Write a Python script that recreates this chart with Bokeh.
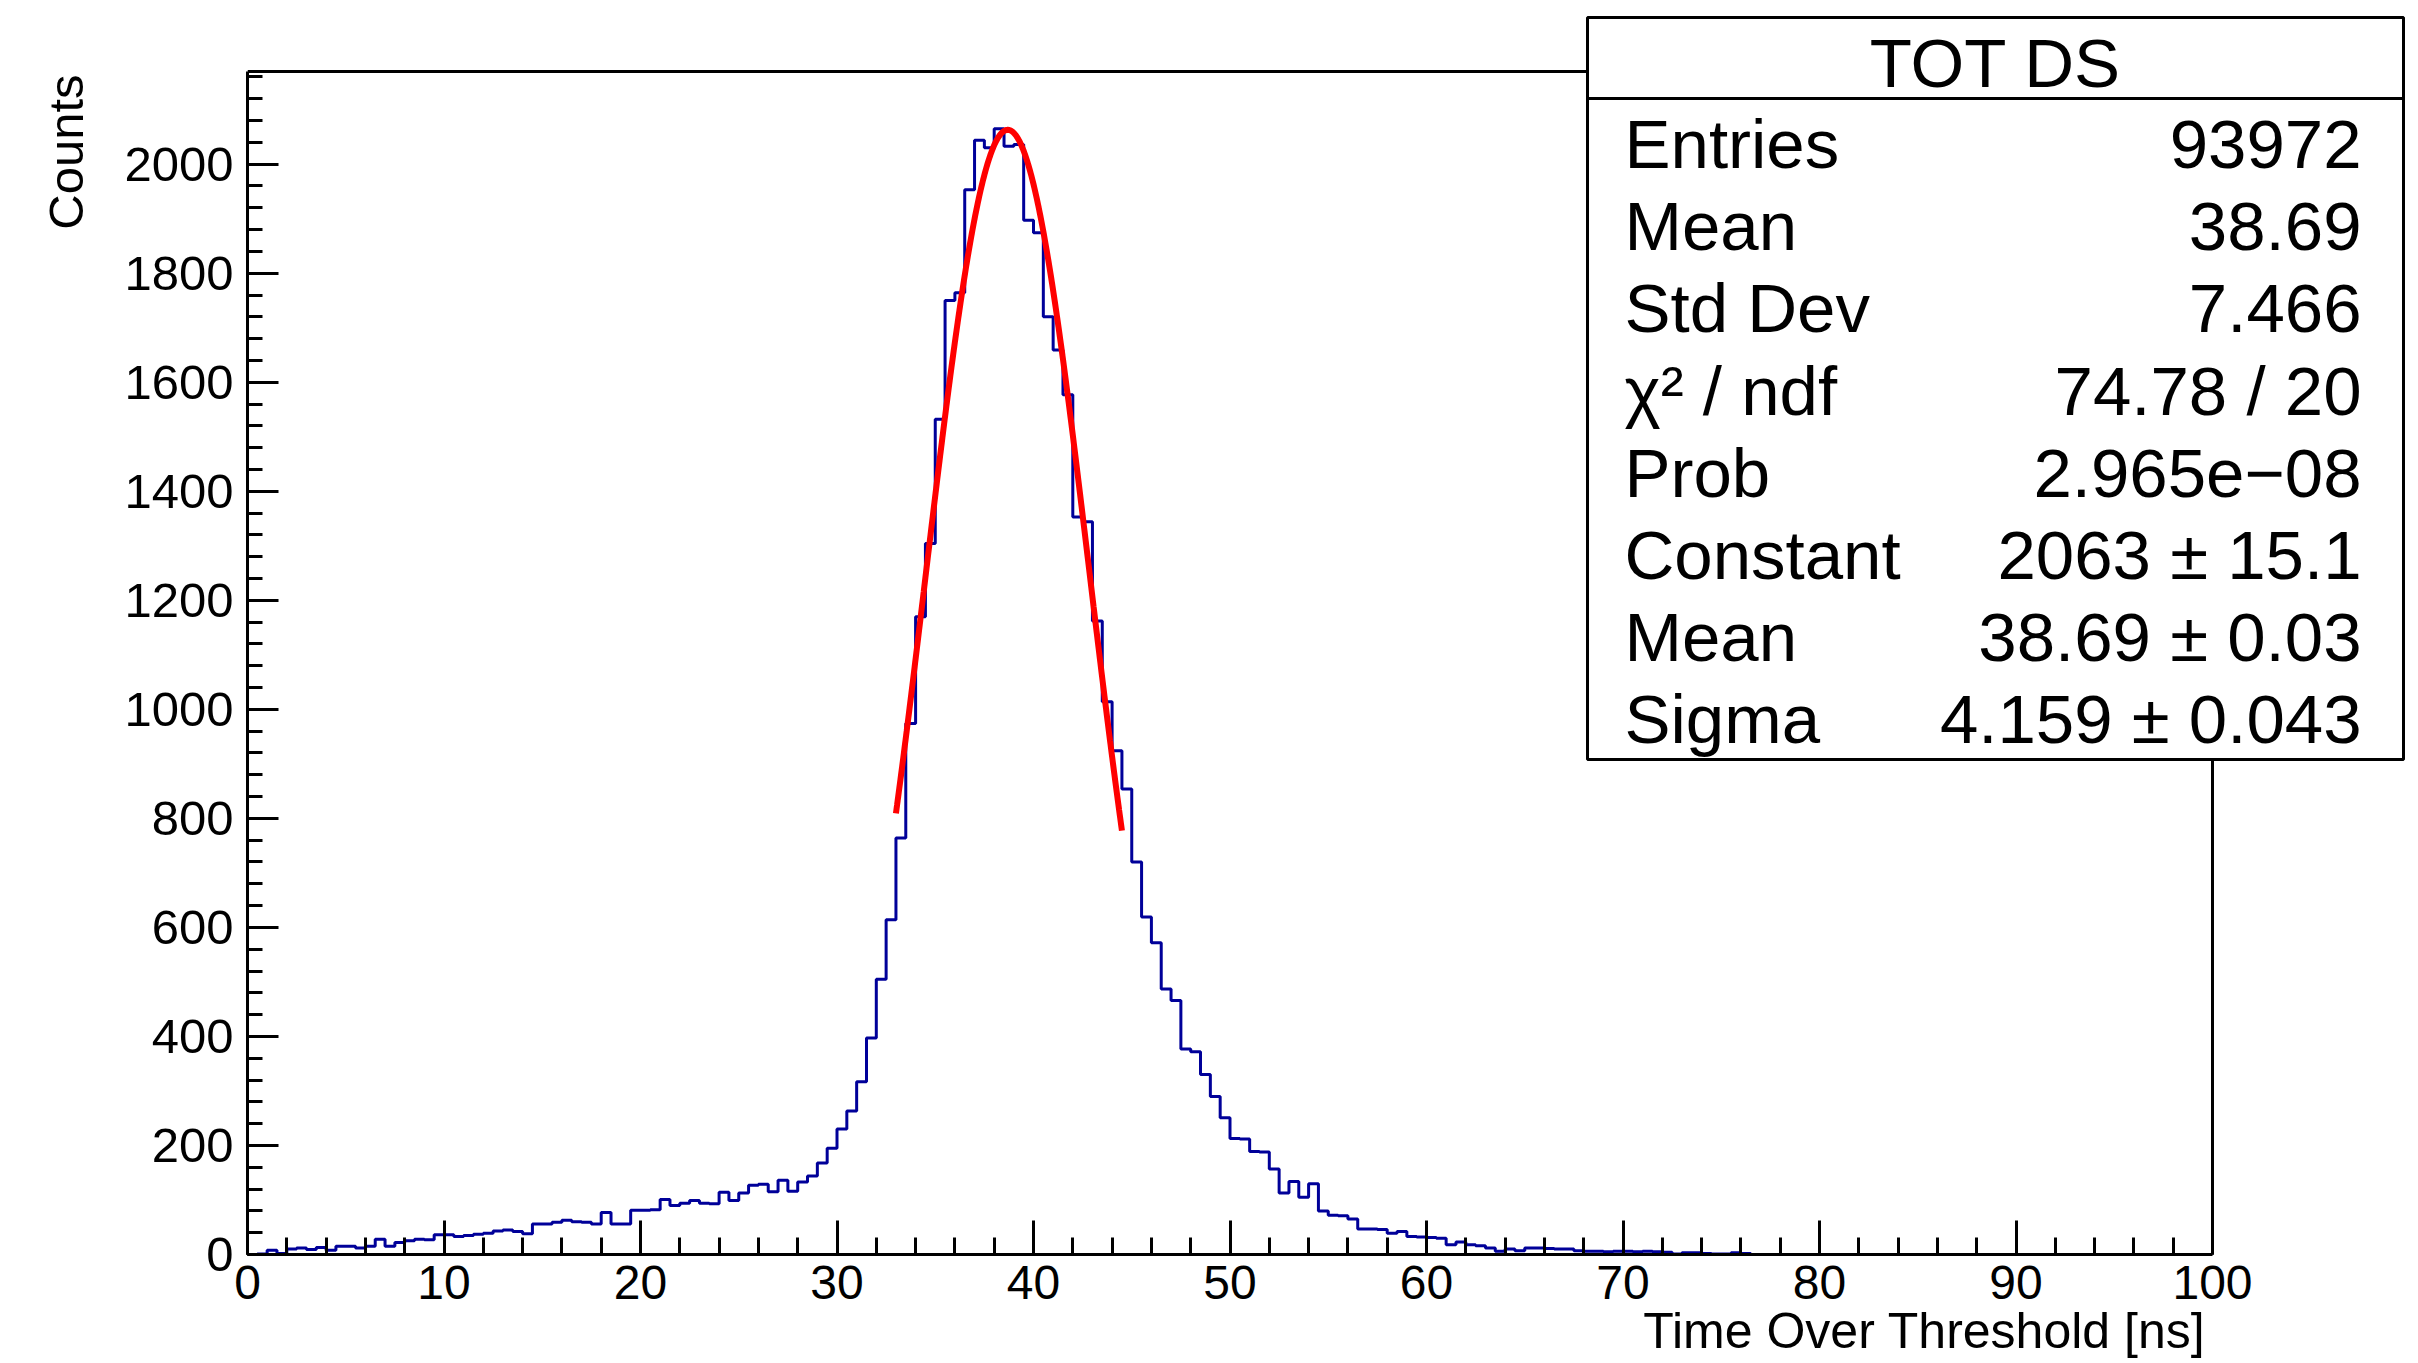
import numpy as np
from bokeh.plotting import figure
from bokeh.models import Range1d, SingleIntervalTicker, Title
from bokeh.embed import file_html
from bokeh.resources import INLINE
from bokeh.core.properties import value

# ---------------- data ----------------
bin_width = 0.5
x_lo, x_hi = 0.0, 100.0
y_top = 2170

bin_counts = [
    0, 1, 8, 2, 10, 12, 9, 13, 8, 15,
    15, 12, 15, 28, 15, 22, 25, 28, 27, 36,
    36, 33, 35, 37, 39, 43, 45, 42, 38, 56,
    56, 59, 63, 60, 59, 56, 77, 56, 56, 81,
    81, 82, 101, 90, 94, 99, 94, 93, 114, 99,
    113, 127, 129, 115, 136, 116, 133, 144, 168, 195,
    230, 263, 317, 397, 505, 614, 764, 974, 1170, 1304,
    1532, 1750, 1764, 1953, 2044, 2030, 2065, 2033, 2036, 1897,
    1874, 1720, 1659, 1577, 1353, 1344, 1162, 1014, 924, 854,
    720, 619, 572, 487, 466, 377, 372, 330, 290, 251,
    213, 212, 189, 188, 157, 113, 134, 105, 130, 80,
    72, 71, 65, 47, 47, 46, 39, 42, 33, 32,
    31, 30, 18, 23, 18, 16, 12, 6, 10, 7,
    12, 12, 11, 10, 10, 7, 6, 6, 5, 6,
    6, 5, 6, 5, 4, 1, 3, 3, 2, 1,
    1, 3, 2, 0, 0, 0, 0, 0, 0, 0,
    0, 0, 0, 0, 0, 0, 0, 0, 0, 0,
    0, 0, 0, 0, 0, 0, 0, 0, 0, 0,
    0, 0, 0, 0, 0, 0, 0, 0, 0, 0,
    0, 0, 0, 0, 0, 0, 0, 0, 0, 0,
]

fit_constant = 2063.0
fit_mean = 38.69
fit_sigma = 4.159
fit_x_from = 33.0
fit_x_to = 44.5

stats_title = "TOT DS"
stats_names = ["Entries", "Mean", "Std Dev", "\u03c7\u00b2 / ndf", "Prob",
               "Constant", "Mean", "Sigma"]
stats_values = ["93972", "38.69", "7.466", "74.78 / 20", "2.965e\u221208",
                "2063 \u00b1 15.1", "38.69 \u00b1 0.03", "4.159 \u00b1 0.043"]

x_title = "Time Over Threshold [ns]"
y_title = "Counts"

# ---------------- layout (reference pixel positions) ----------------
W, H = 2418, 1363
REF_X0, REF_X100 = 247, 2212   # x = 0 and x = 100
REF_Y0, REF_YTOP = 1254, 71    # y = 0 and y = y_top

sx = (REF_X100 - REF_X0) / (x_hi - x_lo)
sy = (REF_Y0 - REF_YTOP) / y_top


def dx(ref_px):
    return x_lo + (ref_px - REF_X0) / sx


def dy(ref_py):
    return (REF_Y0 - ref_py) / sy


x_end = dx(W)
y_end = dy(0)

FONT = "Liberation Sans"

p = figure(width=W, height=H, title=None,
           x_range=Range1d(x_lo, x_end), y_range=Range1d(0, y_end),
           output_backend="svg", toolbar_location=None,
           min_border_left=REF_X0, min_border_right=0,
           min_border_top=0, min_border_bottom=H - REF_Y0)
p.outline_line_color = None
p.grid.visible = False
p.background_fill_color = "white"
p.border_fill_color = "white"

# axes
p.xaxis.ticker = SingleIntervalTicker(interval=10, num_minor_ticks=5)
p.yaxis.ticker = SingleIntervalTicker(interval=200, num_minor_ticks=5)
p.xaxis.bounds = (x_lo, x_hi)
p.yaxis.bounds = (0, y_top)
for ax in (p.xaxis[0], p.yaxis[0]):
    ax.axis_line_width = 3
    ax.axis_line_color = "black"
    ax.major_tick_line_width = 3
    ax.minor_tick_line_width = 3
    ax.major_tick_line_color = "black"
    ax.minor_tick_line_color = "black"
    ax.major_tick_out = 0
    ax.minor_tick_out = 0
    ax.major_label_text_font = FONT
    ax.major_label_text_color = "black"
p.xaxis.major_label_text_font_size = "48px"
p.yaxis.major_label_text_font_size = "49px"
p.xaxis.major_tick_in = 34
p.xaxis.minor_tick_in = 17
p.yaxis.major_tick_in = 31
p.yaxis.minor_tick_in = 15
p.xaxis.major_label_standoff = 11
p.yaxis.major_label_standoff = 14

# histogram
counts = np.array(bin_counts, dtype=float)
edges = x_lo + bin_width * np.arange(len(counts) + 1)
p.step(edges, np.append(counts, counts[-1]), mode="after",
       line_color="#000099", line_width=3)

# gaussian fit curve from the fitted parameters
xf = np.linspace(fit_x_from, fit_x_to, 400)
yf = fit_constant * np.exp(-0.5 * ((xf - fit_mean) / fit_sigma) ** 2)
p.line(xf, yf, line_color="#ff0000", line_width=6)

# top and right frame of the pad
p.line([x_lo, x_hi, x_hi], [y_top, y_top, 0], line_color="black", line_width=3)

# statistics box
bl, br, bt, bb, bsep = 1587, 2403, 17, 759, 98
p.quad(left=[dx(bl)], right=[dx(br)], top=[dy(bt)], bottom=[dy(bb)],
       fill_color="white", line_color="black", line_width=3)
p.segment(x0=[dx(bl)], x1=[dx(br)], y0=[dy(bsep)], y1=[dy(bsep)],
          line_color="black", line_width=3)
p.text(x=[dx((bl + br) / 2)], y=[dy(63)], text=[stats_title],
       text_align="center", text_baseline="middle",
       text_font=value(FONT), text_font_size="69px", text_color="black")
rows = [dy(144 + 82.2 * i) for i in range(len(stats_names))]
p.text(x=[dx(1624)] * len(rows), y=rows, text=stats_names,
       text_align="left", text_baseline="middle",
       text_font=value(FONT), text_font_size="69px", text_color="black")
p.text(x=[dx(2361)] * len(rows), y=rows, text=stats_values,
       text_align="right", text_baseline="middle",
       text_font=value(FONT), text_font_size="69px", text_color="black")

# axis titles (ROOT style: aligned to the axis ends)
p.add_layout(Title(text=x_title, align="right", offset=W - 2205,
                   vertical_align="top", standoff=2,
                   text_font=FONT, text_font_size="50px",
                   text_font_style="normal", text_color="black"), "below")
p.add_layout(Title(text=y_title, align="right", offset=74,
                   vertical_align="bottom", standoff=58,
                   text_font=FONT, text_font_size="49px",
                   text_font_style="normal", text_color="black"), "left")

open("out.html", "w").write(file_html(p, INLINE))
